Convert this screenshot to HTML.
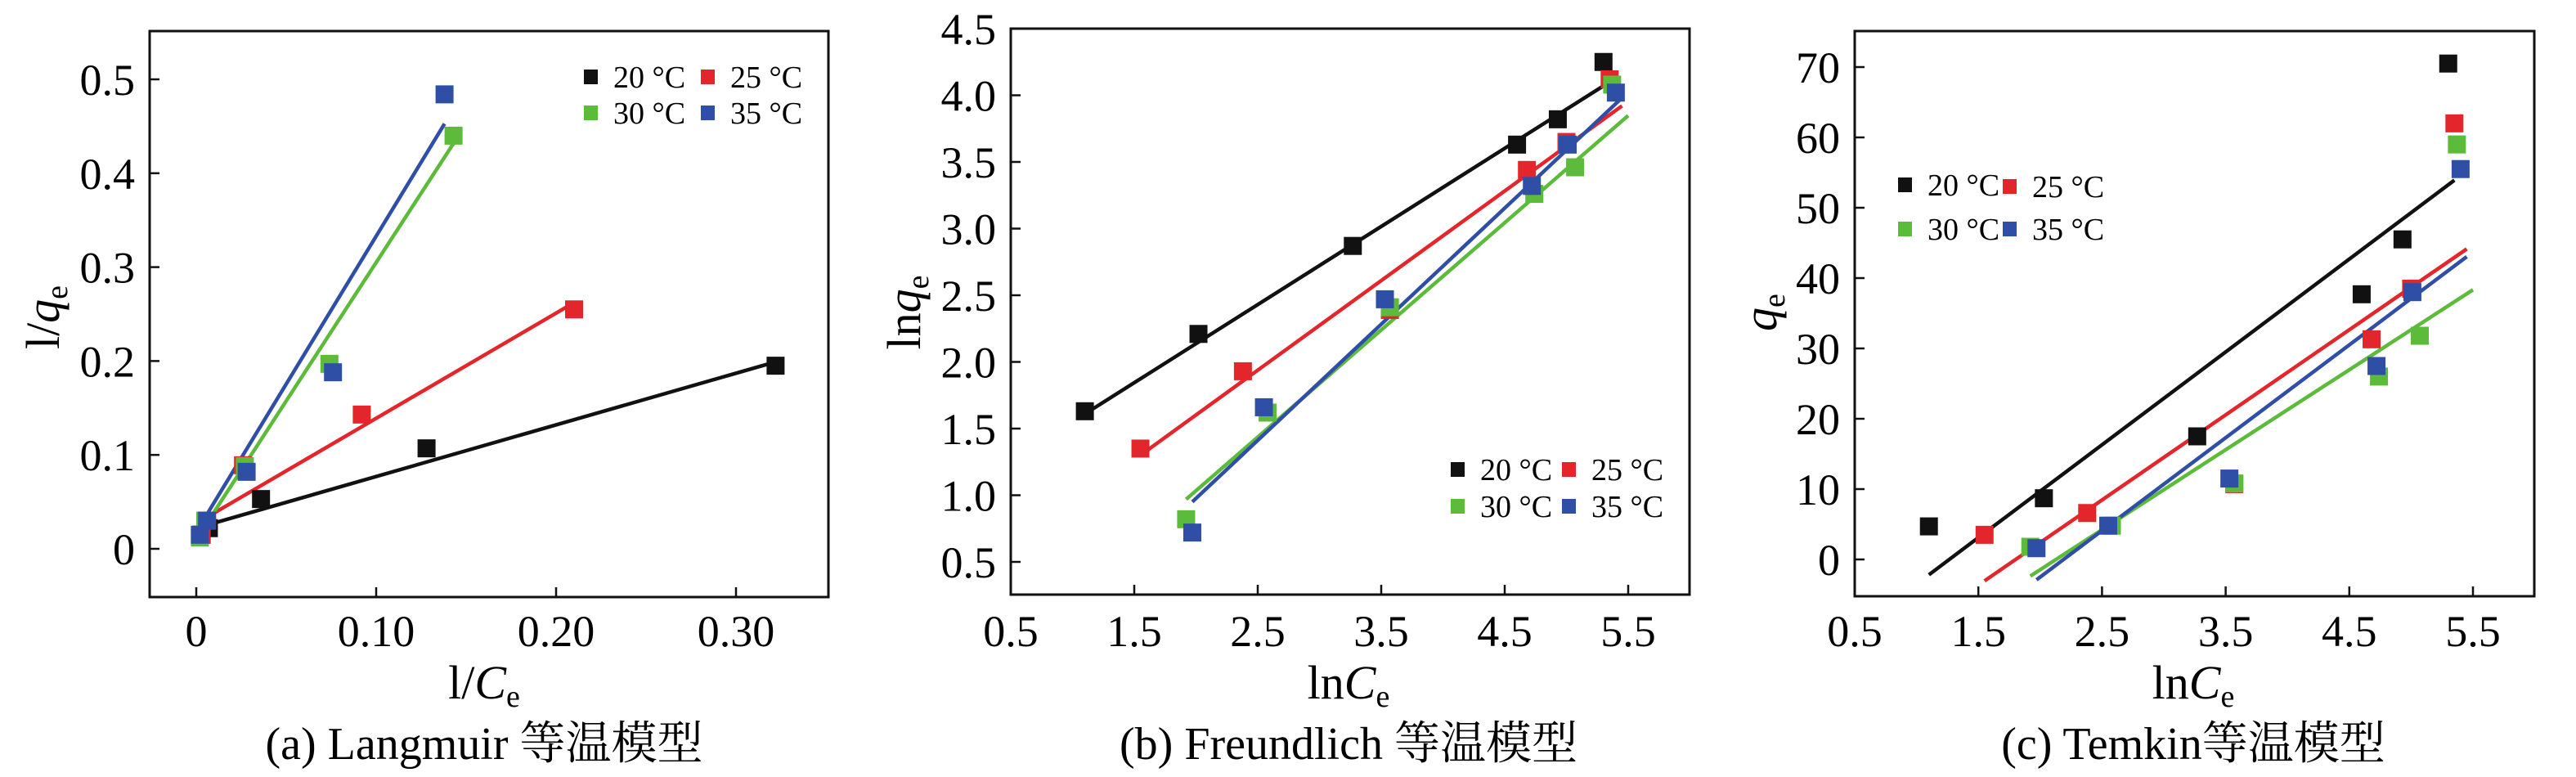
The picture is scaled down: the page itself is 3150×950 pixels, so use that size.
<!DOCTYPE html>
<html><head><meta charset="utf-8">
<style>
html,body{margin:0;padding:0;background:#fff;}
svg, svg text{font-family:"Liberation Serif","DejaVu Serif","Noto Serif CJK SC",serif;}
</style></head>
<body>
<svg id="chart" width="3150" height="945" viewBox="0 0 3150 945" xmlns="http://www.w3.org/2000/svg"></svg>
<script>
// ---- Panel A: Langmuir ----
const aX20=[0.003,0.007,0.036,0.128,0.322], aY20=[0.015,0.022,0.053,0.107,0.195];
const aX25=[0.003,0.006,0.026,0.092,0.210], aY25=[0.015,0.030,0.089,0.143,0.255];
const aX30=[0.002,0.005,0.027,0.074,0.143], aY30=[0.012,0.030,0.088,0.197,0.440];
const aX35=[0.002,0.006,0.028,0.076,0.138], aY35=[0.015,0.030,0.082,0.188,0.484];
const aSlope=[0.55,1.12,2.95,3.15], aInt=[0.022,0.027,0.010,0.018];
const aFitX0=[0.007,0.005,0.004,0.003], aFitX1=[0.322,0.210,0.143,0.138];
const aXTicks=[0,0.10,0.20,0.30], aXTickLabels=["0","0.10","0.20","0.30"];
const aYTicks=[0,0.1,0.2,0.3,0.4,0.5], aYTickLabels=["0","0.1","0.2","0.3","0.4","0.5"];
// ---- Panel B: Freundlich ----
const bX20=[1.10,2.02,3.27,4.60,4.93,5.30], bY20=[1.63,2.21,2.87,3.63,3.82,4.25];
const bX25=[1.55,2.38,3.57,4.68,5.00,5.35], bY25=[1.35,1.93,2.39,3.44,3.65,4.12];
const bX30=[1.92,2.58,3.57,4.74,5.07,5.37], bY30=[0.82,1.62,2.41,3.26,3.46,4.08];
const bX35=[1.97,2.55,3.53,4.72,5.01,5.40], bY35=[0.72,1.66,2.47,3.32,3.63,4.02];
const bSlope=[0.586,0.672,0.804,0.871], bInt=[0.965,0.258,-0.574,-0.766];
const bFitX0=[1.10,1.55,1.92,1.97], bFitX1=[5.35,5.45,5.50,5.45];
const bXTicks=[0.5,1.5,2.5,3.5,4.5,5.5], bXTickLabels=["0.5","1.5","2.5","3.5","4.5","5.5"];
const bYTicks=[0.5,1.0,1.5,2.0,2.5,3.0,3.5,4.0,4.5], bYTickLabels=["0.5","1.0","1.5","2.0","2.5","3.0","3.5","4.0","4.5"];
// ---- Panel C: Temkin ----
const cX20=[1.10,2.03,3.27,4.60,4.93,5.30], cY20=[4.7,8.7,17.5,37.7,45.5,70.5];
const cX25=[1.55,2.38,3.57,4.68,5.00,5.35], cY25=[3.5,6.6,10.7,31.3,38.5,62.0];
const cX30=[1.92,2.58,3.57,4.74,5.07,5.37], cY30=[1.8,4.8,10.8,26.0,31.8,59.0];
const cX35=[1.97,2.55,3.53,4.72,5.01,5.40], cY35=[1.6,4.8,11.5,27.5,38.0,55.5];
const cSlope=[13.2,12.1,11.37,13.2], cInt=[-16.7,-21.8,-24.2,-28.9];
const cFitX0=[1.10,1.55,1.92,1.97], cFitX1=[5.35,5.45,5.50,5.45];
const cXTicks=[0.5,1.5,2.5,3.5,4.5,5.5], cXTickLabels=["0.5","1.5","2.5","3.5","4.5","5.5"];
const cYTicks=[0,10,20,30,40,50,60,70], cYTickLabels=["0","10","20","30","40","50","60","70"];

const seriesNames=["20 °C","25 °C","30 °C","35 °C"];
const colors=["#111111","#e3262b","#5cbb3a","#2f4fa6"];
const NS="http://www.w3.org/2000/svg";
const FONT='"Liberation Serif","DejaVu Serif","Noto Serif CJK SC",serif';
const svg=document.getElementById('chart');
function mk(tag,attrs,parent,name,inter){const e=document.createElementNS(NS,tag);for(const k in attrs)e.setAttribute(k,attrs[k]);
 
 
 if(tag==='text')e.setAttribute('font-family',FONT);
 (parent||svg).appendChild(e);return e;}

function panel(cfg){
 const g=mk('g',{},svg,cfg.id,false);
 const sx=v=>cfg.px0+(v-cfg.xv0)*(cfg.px1-cfg.px0)/(cfg.xv1-cfg.xv0);
 const sy=v=>cfg.py0+(v-cfg.yv0)*(cfg.py1-cfg.py0)/(cfg.yv1-cfg.yv0);
 mk('rect',{x:cfg.L,y:cfg.T,width:cfg.R-cfg.L,height:cfg.B-cfg.T,fill:'none',stroke:'#111',"stroke-width":3},g,'plot-frame',false);
 cfg.yt.forEach((v,i)=>{const y=sy(v);
  mk('line',{x1:cfg.L,x2:cfg.L+12,y1:y,y2:y,stroke:'#111',"stroke-width":2.5},g,'y-tick',false);
  const t=mk('text',{x:cfg.L-18,y:y+19,"text-anchor":"end","font-size":54},g,'y-tick-label',false);t.textContent=cfg.ytl[i];});
 cfg.xt.forEach((v,i)=>{const x=sx(v);
  mk('line',{x1:x,x2:x,y1:cfg.B,y2:cfg.B-12,stroke:'#111',"stroke-width":2.5},g,'x-tick',false);
  const t=mk('text',{x:x,y:790,"text-anchor":"middle","font-size":54},g,'x-tick-label',false);t.textContent=cfg.xtl[i];});
 const clip=mk('clipPath',{id:cfg.id+'-clip'},g,'clip',false);
 mk('rect',{x:cfg.L,y:cfg.T,width:cfg.R-cfg.L,height:cfg.B-cfg.T},clip,'clip-rect',false);
 const pg=mk('g',{"clip-path":`url(#${cfg.id}-clip)`},g,'plot-area',false);
 for(let s=0;s<4;s++){
  const x0=cfg.fx0[s],x1=cfg.fx1[s];
  mk('line',{x1:sx(x0),y1:sy(cfg.sl[s]*x0+cfg.ic[s]),x2:sx(x1),y2:sy(cfg.sl[s]*x1+cfg.ic[s]),stroke:colors[s],"stroke-width":4.5},pg,'fit-line-'+seriesNames[s].slice(0,2)+'c',false);
 }
 for(let s=0;s<4;s++){
  cfg.xs[s].forEach((xv,i)=>{const yv=cfg.ys[s][i];
   mk('rect',{x:sx(xv)-11,y:sy(yv)-11,width:22,height:22,fill:colors[s]},pg,'point-'+seriesNames[s].slice(0,2)+'c',false);});
 }
 cfg.leg.forEach((p,s)=>{
  mk('rect',{x:p[0]-8,y:p[1]-9,width:17,height:18,fill:colors[s]},g,'legend-marker',false);
  const t=mk('text',{x:p[0]+28,y:p[1]+13,"font-size":38},g,'legend-entry',false);t.textContent=seriesNames[s];});
 const yt=mk('text',{x:0,y:0,"text-anchor":"middle","font-size":58,transform:`translate(${cfg.ytx+18},${cfg.yty}) rotate(-90)`},g,'y-axis-title',false);
 yt.innerHTML=cfg.ytitle;
 const xt=mk('text',{x:cfg.xtx,y:854,"text-anchor":"middle","font-size":58},g,'x-axis-title',false);xt.innerHTML=cfg.xtitle;
 const cap=mk('text',{x:cfg.xtx,y:928,"text-anchor":"middle","font-size":56},g,'panel-caption',false);cap.textContent=cfg.caption;
}

panel({id:'langmuir-panel',L:183,R:1013,T:38,B:730,xv0:0,xv1:0.30,px0:240,px1:900,yv0:0,yv1:0.5,py0:671,py1:97,
 xt:aXTicks,xtl:aXTickLabels,yt:aYTicks,ytl:aYTickLabels,
 xs:[aX20,aX25,aX30,aX35],ys:[aY20,aY25,aY30,aY35],sl:aSlope,ic:aInt,fx0:aFitX0,fx1:aFitX1,
 leg:[[722,94],[865,94],[722,138],[865,138]],
 ytitle:'l/<tspan font-style="italic">q</tspan><tspan font-size="38" dy="10">e</tspan>',ytx:54,yty:388,
 xtitle:'l/<tspan font-style="italic">C</tspan><tspan font-size="38" dy="10">e</tspan>',xtx:592,caption:'(a) Langmuir 等温模型'});
panel({id:'freundlich-panel',L:1236,R:2066,T:35,B:727,xv0:0.5,xv1:5.5,px0:1236,px1:1991,yv0:0.5,yv1:4.5,py0:687,py1:35,
 xt:bXTicks,xtl:bXTickLabels,yt:bYTicks,ytl:bYTickLabels,
 xs:[bX20,bX25,bX30,bX35],ys:[bY20,bY25,bY30,bY35],sl:bSlope,ic:bInt,fx0:bFitX0,fx1:bFitX1,
 leg:[[1782,574],[1918,574],[1782,619],[1918,619]],
 ytitle:'ln<tspan font-style="italic">q</tspan><tspan font-size="38" dy="10">e</tspan>',ytx:1107,yty:382,
 xtitle:'ln<tspan font-style="italic">C</tspan><tspan font-size="38" dy="10">e</tspan>',xtx:1649,caption:'(b) Freundlich 等温模型'});
panel({id:'temkin-panel',L:2268,R:3099,T:38,B:729,xv0:0.5,xv1:5.5,px0:2268,px1:3024,yv0:0,yv1:70,py0:684,py1:82,
 xt:cXTicks,xtl:cXTickLabels,yt:cYTicks,ytl:cYTickLabels,
 xs:[cX20,cX25,cX30,cX35],ys:[cY20,cY25,cY30,cY35],sl:cSlope,ic:cInt,fx0:cFitX0,fx1:cFitX1,
 leg:[[2329,226],[2457,228],[2329,280],[2457,280]],
 ytitle:'<tspan font-style="italic">q</tspan><tspan font-size="38" dy="10">e</tspan>',ytx:2154,yty:382,
 xtitle:'ln<tspan font-style="italic">C</tspan><tspan font-size="38" dy="10">e</tspan>',xtx:2682,caption:'(c) Temkin等温模型'});
</script>
</body></html>
